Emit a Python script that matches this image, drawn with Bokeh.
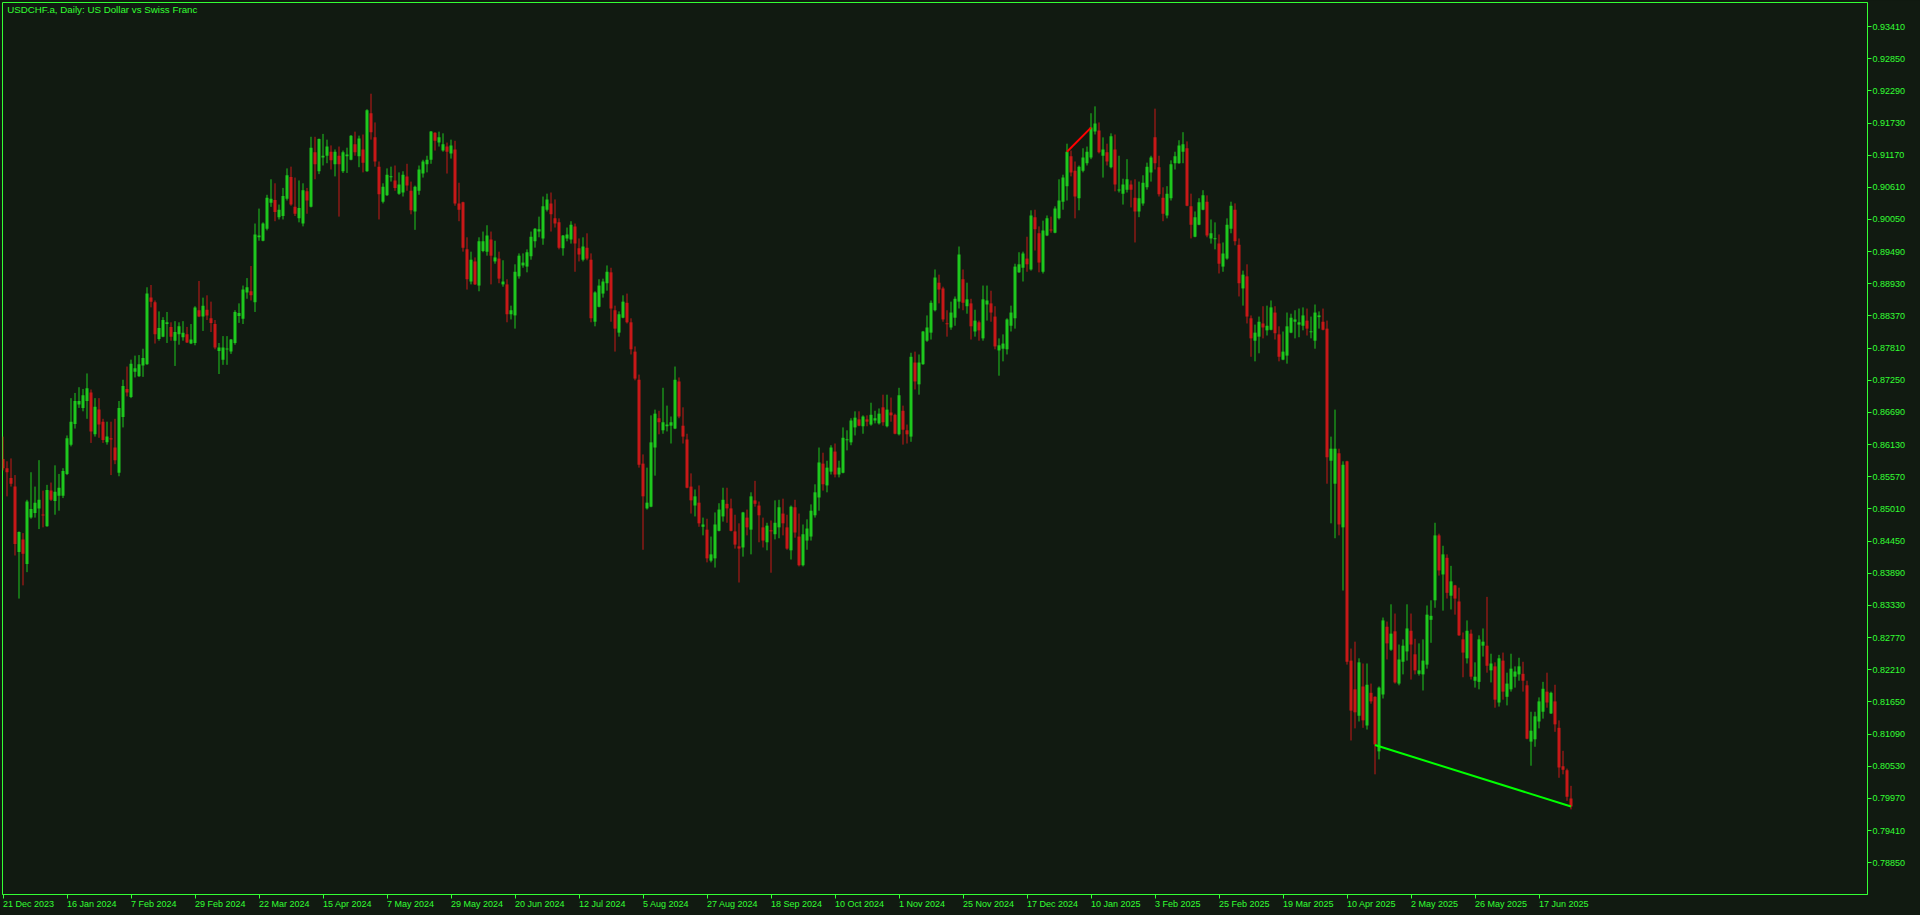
from bokeh.plotting import figure
from bokeh.models import (ColumnDataSource, FixedTicker, PrintfTickFormatter, Range1d, Label,
                          CustomJSTickFormatter)
from bokeh.embed import file_html
from bokeh.resources import INLINE

title_text = "USDCHF.a, Daily:  US Dollar vs Swiss Franc"

date_labels = ["21 Dec 2023", "16 Jan 2024", "7 Feb 2024", "29 Feb 2024", "22 Mar 2024",
               "15 Apr 2024", "7 May 2024", "29 May 2024", "20 Jun 2024", "12 Jul 2024",
               "5 Aug 2024", "27 Aug 2024", "18 Sep 2024", "10 Oct 2024", "1 Nov 2024",
               "25 Nov 2024", "17 Dec 2024", "10 Jan 2025", "3 Feb 2025", "25 Feb 2025",
               "19 Mar 2025", "10 Apr 2025", "2 May 2025", "26 May 2025", "17 Jun 2025"]
date_label_bars = [0, 16, 32, 48, 64, 80, 96, 112, 128, 144, 160, 176, 192, 208, 224,
                   240, 256, 272, 288, 304, 320, 336, 352, 368, 384]

price_ticks = [0.93410, 0.92850, 0.92290, 0.91730, 0.91170, 0.90610, 0.90050, 0.89490,
               0.88930, 0.88370, 0.87810, 0.87250, 0.86690, 0.86130, 0.85570, 0.85010,
               0.84450, 0.83890, 0.83330, 0.82770, 0.82210, 0.81650, 0.81090, 0.80530,
               0.79970, 0.79410, 0.78850]

opens = [
 0.8588,0.8572,0.8555,0.8540,0.8426,0.8448,0.8405,0.8486,0.8494,0.8502,
 0.8491,0.8471,0.8533,0.8515,0.8524,0.8524,0.8562,0.8613,0.8649,0.8683,
 0.8677,0.8689,0.8704,0.8631,0.8674,0.8653,0.8617,0.8624,0.8608,0.8564,
 0.8661,0.8710,0.8696,0.8740,0.8732,0.8751,0.8753,0.8869,0.8861,0.8797,
 0.8801,0.8823,0.8818,0.8794,0.8805,0.8800,0.8805,0.8789,0.8790,0.8847,
 0.8836,0.8848,0.8833,0.8823,0.8776,0.8761,0.8779,0.8775,0.8790,0.8837,
 0.8832,0.8878,0.8880,0.8861,0.8974,0.8968,0.8989,0.9034,0.9039,0.9009,
 0.9011,0.9041,0.9079,0.9027,0.9007,0.8998,0.9054,0.9027,0.9122,0.9089,
 0.9113,0.9116,0.9123,0.9101,0.9116,0.9089,0.9115,0.9109,0.9136,0.9115,
 0.9127,0.9089,0.9190,0.9148,0.9097,0.9036,0.9047,0.9079,0.9073,0.9050,
 0.9052,0.9080,0.9055,0.9019,0.9055,0.9085,0.9101,0.9109,0.9156,0.9139,
 0.9125,0.9132,0.9120,0.9127,0.9033,0.9035,0.8953,0.8897,0.8932,0.8890,
 0.8950,0.8949,0.8970,0.8932,0.8937,0.8892,0.8892,0.8840,0.8838,0.8906,
 0.8925,0.8923,0.8941,0.8967,0.8984,0.8972,0.9022,0.9033,0.9007,0.9000,
 0.8955,0.8972,0.8970,0.8993,0.8955,0.8935,0.8956,0.8935,0.8827,0.8853,
 0.8876,0.8894,0.8913,0.8847,0.8808,0.8834,0.8860,0.8826,0.8775,0.8726,
 0.8580,0.8502,0.8505,0.8608,0.8659,0.8638,0.8645,0.8646,0.8641,0.8723,
 0.8646,0.8622,0.8540,0.8507,0.8512,0.8470,0.8465,0.8411,0.8415,0.8463,
 0.8488,0.8510,0.8502,0.8462,0.8436,0.8434,0.8486,0.8465,0.8516,0.8507,
 0.8469,0.8443,0.8464,0.8457,0.8469,0.8493,0.8469,0.8429,0.8504,0.8453,
 0.8403,0.8446,0.8453,0.8490,0.8521,0.8580,0.8542,0.8566,0.8601,0.8561,
 0.8564,0.8621,0.8617,0.8643,0.8657,0.8645,0.8657,0.8648,0.8655,0.8650,
 0.8678,0.8645,0.8669,0.8665,0.8631,0.8672,0.8638,0.8627,0.8756,0.8718,
 0.8753,0.8794,0.8808,0.8847,0.8895,0.8885,0.8824,0.8817,0.8834,0.8862,
 0.8901,0.8854,0.8859,0.8810,0.8826,0.8798,0.8857,0.8859,0.8836,0.8777,
 0.8780,0.8779,0.8820,0.8833,0.8913,0.8921,0.8937,0.8918,0.9009,0.8981,
 0.8914,0.8977,0.8987,0.8982,0.9007,0.9036,0.9063,0.9115,0.9090,0.9042,
 0.9090,0.9103,0.9113,0.9158,0.9160,0.9116,0.9122,0.9096,0.9127,0.9056,
 0.9050,0.9057,0.9066,0.9043,0.9019,0.9033,0.9061,0.9087,0.9148,0.9096,
 0.9043,0.9012,0.9042,0.9103,0.9103,0.9123,0.9129,0.9028,0.8975,0.8996,
 0.9022,0.9036,0.8972,0.8971,0.8963,0.8923,0.8937,0.8989,0.9022,0.8961,
 0.8885,0.8906,0.8833,0.8794,0.8801,0.8824,0.8812,0.8813,0.8843,0.8805,
 0.8761,0.8768,0.8808,0.8827,0.8822,0.8820,0.8829,0.8809,0.8794,0.8835,
 0.8827,0.8815,0.8585,0.8545,0.8598,0.8469,0.8584,0.8237,0.8187,0.8141,
 0.8192,0.8124,0.8181,0.8174,0.8079,0.8178,0.8296,0.8256,0.8288,0.8197,
 0.8235,0.8253,0.8289,0.8248,0.8214,0.8213,0.8230,0.8308,0.8342,0.8455,
 0.8387,0.8416,0.8350,0.8368,0.8340,0.8274,0.8241,0.8284,0.8202,0.8200,
 0.8263,0.8263,0.8220,0.8227,0.8164,0.8237,0.8174,0.8187,0.8209,0.8213,
 0.8214,0.8194,0.8096,0.8100,0.8131,0.8148,0.8183,0.8145,0.8166,0.8120,
 0.8053,0.8046,0.7997]

highs = [
 0.8627,0.8584,0.8589,0.8560,0.8462,0.8459,0.8517,0.8565,0.8540,0.8586,
 0.8533,0.8543,0.8547,0.8577,0.8562,0.8572,0.8629,0.8694,0.8703,0.8713,
 0.8710,0.8737,0.8709,0.8694,0.8694,0.8658,0.8653,0.8653,0.8658,0.8689,
 0.8726,0.8749,0.8761,0.8768,0.8769,0.8780,0.8887,0.8891,0.8864,0.8845,
 0.8835,0.8844,0.8826,0.8828,0.8826,0.8828,0.8818,0.8823,0.8854,0.8898,
 0.8869,0.8873,0.8862,0.8830,0.8790,0.8802,0.8802,0.8797,0.8847,0.8859,
 0.8890,0.8903,0.8924,0.8998,0.9024,0.9000,0.9048,0.9075,0.9068,0.9031,
 0.9060,0.9094,0.9097,0.9078,0.9073,0.9068,0.9060,0.9149,0.9149,0.9146,
 0.9154,0.9144,0.9134,0.9127,0.9132,0.9125,0.9130,0.9152,0.9158,0.9151,
 0.9153,0.9197,0.9224,0.9174,0.9106,0.9068,0.9094,0.9097,0.9099,0.9087,
 0.9089,0.9102,0.9071,0.9064,0.9099,0.9109,0.9116,0.9159,0.9157,0.9158,
 0.9155,0.9139,0.9144,0.9142,0.9069,0.9036,0.8974,0.8949,0.8939,0.8974,
 0.8984,0.8995,0.8984,0.8968,0.8949,0.8934,0.8901,0.8855,0.8927,0.8946,
 0.8946,0.8953,0.8984,0.8990,0.9010,0.9045,0.9050,0.9052,0.9040,0.9007,
 0.8978,0.8991,0.9002,0.8998,0.8972,0.8974,0.8981,0.8946,0.8880,0.8901,
 0.8902,0.8925,0.8921,0.8855,0.8845,0.8873,0.8876,0.8833,0.8784,0.8735,
 0.8596,0.8573,0.8664,0.8674,0.8672,0.8712,0.8681,0.8662,0.8749,0.8730,
 0.8678,0.8632,0.8563,0.8535,0.8542,0.8486,0.8484,0.8453,0.8495,0.8511,
 0.8538,0.8538,0.8519,0.8491,0.8476,0.8496,0.8500,0.8530,0.8550,0.8514,
 0.8486,0.8477,0.8481,0.8516,0.8517,0.8519,0.8491,0.8507,0.8517,0.8493,
 0.8474,0.8483,0.8509,0.8544,0.8608,0.8599,0.8585,0.8612,0.8615,0.8585,
 0.8643,0.8638,0.8659,0.8671,0.8671,0.8664,0.8664,0.8686,0.8672,0.8676,
 0.8700,0.8700,0.8695,0.8667,0.8712,0.8681,0.8648,0.8773,0.8775,0.8770,
 0.8811,0.8838,0.8864,0.8918,0.8909,0.8888,0.8847,0.8862,0.8871,0.8958,
 0.8918,0.8895,0.8867,0.8848,0.8829,0.8890,0.8890,0.8881,0.8854,0.8798,
 0.8805,0.8833,0.8855,0.8928,0.8948,0.8949,0.8975,0.9021,0.9022,0.8993,
 0.9003,0.9012,0.9010,0.9028,0.9075,0.9083,0.9137,0.9125,0.9106,0.9099,
 0.9129,0.9132,0.9190,0.9202,0.9174,0.9148,0.9137,0.9155,0.9153,0.9116,
 0.9076,0.9110,0.9073,0.9075,0.9071,0.9082,0.9104,0.9116,0.9198,0.9116,
 0.9061,0.9063,0.9108,0.9123,0.9143,0.9157,0.9141,0.9050,0.9019,0.9042,
 0.9056,0.9047,0.9005,0.9000,0.8979,0.8965,0.9007,0.9036,0.9033,0.8972,
 0.8916,0.8927,0.8838,0.8822,0.8836,0.8854,0.8855,0.8864,0.8854,0.8819,
 0.8810,0.8843,0.8841,0.8847,0.8850,0.8852,0.8850,0.8836,0.8857,0.8845,
 0.8850,0.8829,0.8627,0.8674,0.8606,0.8584,0.8585,0.8258,0.8270,0.8241,
 0.8232,0.8232,0.8197,0.8175,0.8192,0.8312,0.8305,0.8335,0.8319,0.8265,
 0.8274,0.8335,0.8319,0.8275,0.8267,0.8274,0.8333,0.8342,0.8477,0.8458,
 0.8437,0.8422,0.8402,0.8369,0.8364,0.8286,0.8307,0.8291,0.8234,0.8281,
 0.8293,0.8348,0.8249,0.8234,0.8247,0.8251,0.8216,0.8249,0.8227,0.8242,
 0.8235,0.8202,0.8148,0.8148,0.8173,0.8200,0.8216,0.8183,0.8195,0.8133,
 0.8080,0.8049,0.8019]

lows = [
 0.8568,0.8523,0.8540,0.8420,0.8345,0.8368,0.8391,0.8484,0.8486,0.8466,
 0.8469,0.8470,0.8515,0.8491,0.8498,0.8520,0.8560,0.8610,0.8641,0.8677,
 0.8671,0.8658,0.8616,0.8627,0.8625,0.8616,0.8613,0.8560,0.8579,0.8558,
 0.8643,0.8697,0.8694,0.8730,0.8731,0.8731,0.8752,0.8852,0.8789,0.8794,
 0.8800,0.8790,0.8794,0.8750,0.8787,0.8794,0.8790,0.8788,0.8786,0.8835,
 0.8811,0.8830,0.8809,0.8779,0.8736,0.8752,0.8752,0.8771,0.8787,0.8825,
 0.8823,0.8867,0.8864,0.8844,0.8968,0.8967,0.8986,0.9027,0.9002,0.9005,
 0.9005,0.9038,0.9029,0.9011,0.9000,0.8993,0.9015,0.9026,0.9075,0.9084,
 0.9099,0.9103,0.9092,0.9080,0.9010,0.9086,0.9086,0.9108,0.9116,0.9096,
 0.9087,0.9088,0.9144,0.9097,0.9005,0.9033,0.9046,0.9071,0.9055,0.9048,
 0.9045,0.9055,0.9014,0.8987,0.9048,0.9078,0.9087,0.9102,0.9125,0.9132,
 0.9123,0.9085,0.9111,0.9029,0.9002,0.8949,0.8883,0.8892,0.8891,0.8880,
 0.8948,0.8942,0.8892,0.8928,0.8894,0.8888,0.8826,0.8831,0.8815,0.8902,
 0.8921,0.8913,0.8935,0.8956,0.8974,0.8961,0.9019,0.8984,0.8991,0.8953,
 0.8942,0.8967,0.8963,0.8914,0.8932,0.8932,0.8934,0.8826,0.8819,0.8852,
 0.8869,0.8881,0.8827,0.8775,0.8801,0.8833,0.8824,0.8770,0.8725,0.8573,
 0.8430,0.8500,0.8504,0.8559,0.8631,0.8632,0.8636,0.8615,0.8640,0.8659,
 0.8615,0.8537,0.8493,0.8488,0.8470,0.8455,0.8408,0.8408,0.8399,0.8462,
 0.8479,0.8477,0.8462,0.8432,0.8373,0.8418,0.8455,0.8422,0.8505,0.8443,
 0.8434,0.8429,0.8390,0.8448,0.8450,0.8455,0.8430,0.8413,0.8451,0.8401,
 0.8401,0.8430,0.8446,0.8486,0.8498,0.8533,0.8530,0.8561,0.8556,0.8556,
 0.8563,0.8603,0.8612,0.8629,0.8645,0.8632,0.8645,0.8646,0.8650,0.8648,
 0.8646,0.8643,0.8653,0.8631,0.8629,0.8613,0.8615,0.8618,0.8709,0.8700,
 0.8752,0.8792,0.8796,0.8845,0.8859,0.8827,0.8801,0.8813,0.8820,0.8850,
 0.8847,0.8841,0.8796,0.8801,0.8794,0.8794,0.8829,0.8827,0.8779,0.8733,
 0.8758,0.8770,0.8810,0.8815,0.8912,0.8897,0.8914,0.8916,0.8951,0.8913,
 0.8911,0.8976,0.8982,0.8981,0.9005,0.9022,0.9038,0.9080,0.9007,0.9021,
 0.9087,0.9099,0.9110,0.9153,0.9120,0.9078,0.9099,0.9094,0.9054,0.9052,
 0.9031,0.9052,0.9026,0.8965,0.9009,0.9029,0.9057,0.9071,0.9092,0.9045,
 0.9002,0.9007,0.9038,0.9092,0.9102,0.9103,0.9028,0.8972,0.8974,0.8995,
 0.9021,0.8974,0.8963,0.8953,0.8911,0.8914,0.8935,0.8981,0.8960,0.8871,
 0.8855,0.8824,0.8766,0.8758,0.8772,0.8798,0.8803,0.8812,0.8796,0.8758,
 0.8760,0.8754,0.8807,0.8798,0.8800,0.8812,0.8803,0.8798,0.8780,0.8815,
 0.8812,0.8545,0.8476,0.8450,0.8455,0.8359,0.8230,0.8098,0.8119,0.8131,
 0.8120,0.8117,0.8162,0.8039,0.8065,0.8171,0.8239,0.8254,0.8197,0.8194,
 0.8213,0.8237,0.8204,0.8213,0.8211,0.8185,0.8223,0.8268,0.8329,0.8385,
 0.8324,0.8345,0.8326,0.8317,0.8280,0.8208,0.8232,0.8204,0.8190,0.8187,
 0.8244,0.8216,0.8199,0.8155,0.8157,0.8169,0.8159,0.8183,0.8190,0.8202,
 0.8183,0.8100,0.8054,0.8087,0.8119,0.8136,0.8155,0.8144,0.8113,0.8033,
 0.8039,0.7993,0.7978]

closes = [
 0.8572,0.8565,0.8545,0.8440,0.8461,0.8423,0.8514,0.8501,0.8512,0.8517,
 0.8490,0.8534,0.8517,0.8531,0.8538,0.8567,0.8624,0.8653,0.8689,0.8689,
 0.8699,0.8711,0.8636,0.8679,0.8648,0.8621,0.8627,0.8622,0.8586,0.8677,
 0.8715,0.8704,0.8754,0.8746,0.8753,0.8764,0.8876,0.8862,0.8805,0.8816,
 0.8830,0.8826,0.8801,0.8809,0.8819,0.8808,0.8791,0.8796,0.8852,0.8836,
 0.8855,0.8838,0.8825,0.8782,0.8782,0.8782,0.8780,0.8796,0.8844,0.8842,
 0.8883,0.8887,0.8873,0.8979,0.8977,0.8998,0.9043,0.9041,0.9018,0.9022,
 0.9046,0.9082,0.9031,0.9015,0.9025,0.9056,0.9038,0.9130,0.9101,0.9145,
 0.9116,0.9132,0.9108,0.9123,0.9101,0.9122,0.9118,0.9151,0.9122,0.9146,
 0.9104,0.9195,0.9157,0.9106,0.9049,0.9062,0.9083,0.9080,0.9060,0.9066,
 0.9083,0.9064,0.9021,0.9062,0.9092,0.9106,0.9109,0.9158,0.9142,0.9148,
 0.9136,0.9123,0.9134,0.9033,0.9022,0.8956,0.8901,0.8935,0.8892,0.8967,
 0.8967,0.8977,0.8942,0.8939,0.8902,0.8897,0.8840,0.8847,0.8914,0.8942,
 0.8930,0.8948,0.8975,0.8989,0.8988,0.9028,0.9040,0.9014,0.8998,0.8956,
 0.8977,0.8979,0.8996,0.8963,0.8944,0.8958,0.8937,0.8833,0.8878,0.8890,
 0.8897,0.8914,0.8850,0.8815,0.8840,0.8862,0.8826,0.8779,0.8728,0.8578,
 0.8523,0.8512,0.8617,0.8667,0.8652,0.8652,0.8648,0.8652,0.8726,0.8662,
 0.8627,0.8538,0.8516,0.8523,0.8476,0.8474,0.8415,0.8422,0.8474,0.8500,
 0.8517,0.8502,0.8463,0.8439,0.8432,0.8495,0.8469,0.8523,0.8510,0.8490,
 0.8446,0.8472,0.8462,0.8477,0.8504,0.8476,0.8432,0.8505,0.8460,0.8403,
 0.8457,0.8467,0.8498,0.8530,0.8582,0.8544,0.8573,0.8608,0.8561,0.8573,
 0.8625,0.8622,0.8655,0.8660,0.8646,0.8662,0.8653,0.8665,0.8659,0.8667,
 0.8652,0.8674,0.8664,0.8632,0.8699,0.8639,0.8631,0.8766,0.8723,0.8756,
 0.8810,0.8817,0.8860,0.8904,0.8883,0.8831,0.8823,0.8843,0.8867,0.8944,
 0.8860,0.8866,0.8819,0.8829,0.8812,0.8866,0.8864,0.8843,0.8784,0.8786,
 0.8789,0.8831,0.8843,0.8923,0.8927,0.8946,0.8927,0.9012,0.8988,0.8930,
 0.8986,0.9007,0.8986,0.9024,0.9038,0.9078,0.9123,0.9087,0.9045,0.9097,
 0.9113,0.9123,0.9165,0.9172,0.9122,0.9127,0.9106,0.9150,0.9066,0.9057,
 0.9066,0.9075,0.9057,0.9019,0.9042,0.9069,0.9097,0.9113,0.9103,0.9049,
 0.9015,0.9050,0.9101,0.9115,0.9134,0.9136,0.9029,0.8996,0.9009,0.9035,
 0.9047,0.8977,0.8981,0.8972,0.8928,0.8946,0.8996,0.9029,0.8967,0.8894,
 0.8909,0.8836,0.8798,0.8808,0.8827,0.8817,0.8820,0.8852,0.8807,0.8766,
 0.8775,0.8819,0.8834,0.8831,0.8826,0.8838,0.8815,0.8810,0.8843,0.8838,
 0.8813,0.8591,0.8606,0.8606,0.8474,0.8578,0.8235,0.8150,0.8147,0.8234,
 0.8133,0.8195,0.8166,0.8091,0.8190,0.8307,0.8267,0.8284,0.8199,0.8239,
 0.8263,0.8293,0.8265,0.8220,0.8220,0.8237,0.8317,0.8315,0.8455,0.8394,
 0.8422,0.8355,0.8375,0.8345,0.8281,0.8251,0.8289,0.8209,0.8209,0.8274,
 0.8270,0.8228,0.8232,0.8169,0.8241,0.8183,0.8197,0.8223,0.8218,0.8227,
 0.8202,0.8101,0.8115,0.8140,0.8166,0.8188,0.8164,0.8181,0.8126,0.8051,
 0.8047,0.8000,0.7983]

resistance_bars = [266, 272]
resistance_prices = [0.9123, 0.9165]
support_bars = [343, 392]
support_prices = [0.8090, 0.7983]

BG = "#111A11"
FG = "#33FF33"
BULL = "#1EC81E"
BEAR = "#C81818"
FONT = "Liberation Sans"
AXIS_PX = 9
BAR_PX = 4.0

# approximate advance widths (em) of Liberation Sans, used to left-align date labels
CHAR_EM = {" ": .278, "D": .722, "J": .5, "F": .611, "M": .833, "A": .667, "S": .667,
           "O": .778, "N": .722, "e": .556, "c": .5, "a": .556, "n": .556, "b": .556,
           "r": .333, "p": .556, "y": .5, "u": .556, "l": .222, "g": .556, "t": .278,
           "o": .556, "v": .5}


def text_px(s, size):
    return sum(CHAR_EM.get(ch, .556) for ch in s) * size


n = len(closes)
bars = list(range(n))
y_lo, y_hi = 0.78298, 0.93828
frame_h = 892
min_body = (y_hi - y_lo) / frame_h

tops, bottoms, colors = [], [], []
for o, c in zip(opens, closes):
    t, b = max(o, c), min(o, c)
    if t - b < min_body:
        m = (t + b) / 2
        t, b = m + min_body / 2, m - min_body / 2
    tops.append(t)
    bottoms.append(b)
    colors.append(BULL if c >= o else BEAR)

src = ColumnDataSource(dict(x=bars, o=opens, h=highs, l=lows, c=closes,
                            top=tops, bottom=bottoms, color=colors))

p = figure(frame_width=1865, frame_height=frame_h,
           x_range=Range1d(-0.125, 466.125), y_range=Range1d(y_lo, y_hi),
           output_backend="svg", toolbar_location=None,
           y_axis_location="right",
           min_border_left=2, min_border_top=2, min_border_right=53, min_border_bottom=21,
           background_fill_color=BG, border_fill_color=BG,
           outline_line_color=FG, outline_line_width=1)
p.xgrid.visible = False
p.ygrid.visible = False

p.segment(x0="x", y0="h", x1="x", y1="l", line_color="color", line_width=1, source=src)
p.vbar(x="x", width=0.75, top="top", bottom="bottom", fill_color="color",
       line_color=None, source=src)

p.line(resistance_bars, resistance_prices, line_color="#FF0000", line_width=2)
p.line(support_bars, support_prices, line_color="#00FF00", line_width=2)

ya = p.yaxis[0]
ya.ticker = FixedTicker(ticks=price_ticks)
ya.formatter = PrintfTickFormatter(format="%.5f")
ya.axis_line_color = FG
ya.major_tick_line_color = FG
ya.major_tick_out = 4
ya.major_tick_in = 0
ya.minor_tick_line_color = None
ya.major_label_text_color = FG
ya.major_label_text_font = FONT
ya.major_label_text_font_size = "%dpx" % AXIS_PX
ya.major_label_standoff = 1

# date labels start at their tick (MT4 style): the label centre sits half a text width
# to the right of the tick, the tick marks themselves are drawn as minor ticks
label_pos = [b + (text_px(t, AXIS_PX) / 2.0) / BAR_PX for b, t in zip(date_label_bars, date_labels)]
xa = p.xaxis[0]
xa.ticker = FixedTicker(ticks=label_pos, minor_ticks=date_label_bars)
xa.formatter = CustomJSTickFormatter(args=dict(pos=label_pos, labels=date_labels), code="""
    let best = 0;
    for (let i = 0; i < pos.length; i++) {
        if (Math.abs(pos[i] - tick) < Math.abs(pos[best] - tick)) best = i;
    }
    return labels[best];
""")
xa.axis_line_color = FG
xa.major_tick_line_color = None
xa.major_tick_out = 0
xa.major_tick_in = 0
xa.minor_tick_line_color = FG
xa.minor_tick_out = 4
xa.minor_tick_in = 0
xa.major_label_text_color = FG
xa.major_label_text_font = FONT
xa.major_label_text_font_size = "%dpx" % AXIS_PX
xa.major_label_standoff = 0

p.add_layout(Label(x=4.7, y=885, x_units="screen", y_units="screen", text=title_text,
                   text_align="left", text_baseline="alphabetic",
                   text_color=FG, text_font=FONT, text_font_size="9.75px"))

html = file_html(p, INLINE, title="USDCHF.a Daily")
html = html.replace("</head>", "<style>html,body{margin:0;padding:0;background:%s;}</style></head>" % BG, 1)
open("out.html", "w").write(html)
